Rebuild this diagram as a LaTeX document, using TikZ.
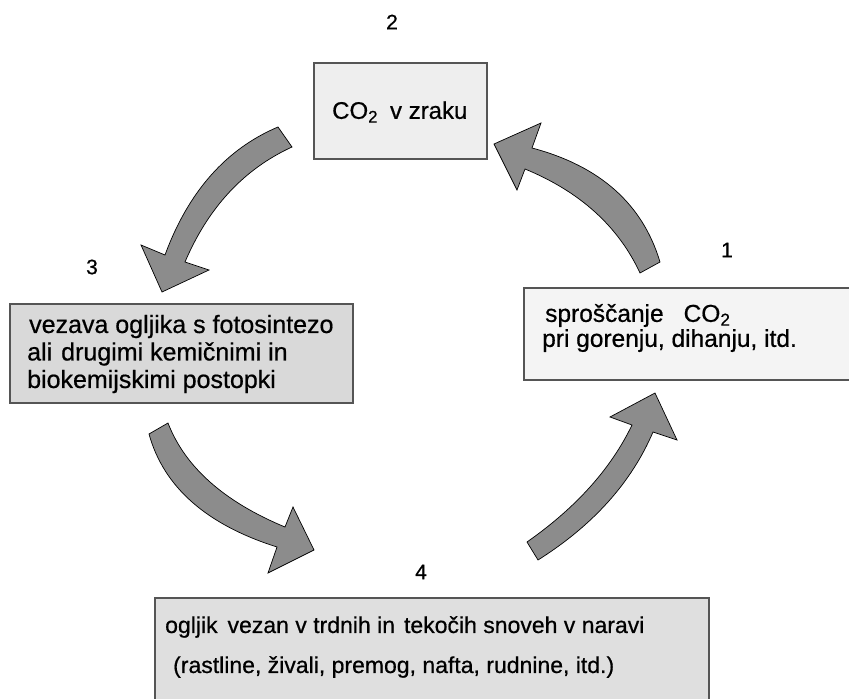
\documentclass[tikz,border=0pt]{standalone}
\usepackage{fontspec}
\setmainfont{Liberation Sans}
\newfontfamily\hv[FakeBold=0.6]{Liberation Sans}
\usetikzlibrary{calc}
\definecolor{boxline}{HTML}{555555}
\definecolor{arrowfill}{HTML}{8C8C8C}
\begin{document}
\begin{tikzpicture}[x=1pt,y=-1pt,
  box/.style={draw=boxline, line width=1.8pt, inner sep=0pt},
  num/.style={font=\hv\fontsize{21}{24}\selectfont, inner sep=0pt},
  txt/.style={inner sep=0pt, anchor=west, align=left},
  bigarrow/.style={fill=arrowfill, draw=black, line width=0.7pt, line join=miter}
]
\useasboundingbox (0,0) rectangle (849,699);
% boxes
\node[box, fill=gray!13, minimum width=173pt, minimum height=96pt] (b2) at (400.5,111) {};
\node[box, fill=gray!30, minimum width=343pt, minimum height=99pt] (b3) at (181.5,353.5) {};
\node[box, fill=gray!9, minimum width=340pt, minimum height=92pt, anchor=north west] (b1) at (523,287) {};
\node[box, fill=gray!25, minimum width=554pt, minimum height=120pt, anchor=north west] (b4) at (154,597) {};
% numbers
\node[num] (n2) at (392,22) {2};
\node[num] (n3) at (92,267) {3};
\node[num] (n1) at (727,250) {1};
\node[num] (n4) at (421,572) {4};
% texts
\node[txt, font=\hv\fontsize{24}{28}\selectfont] (t2) at (332,112) {CO\textsubscript{2}\hspace{12pt}v zraku};
\node[txt, font=\hv\fontsize{25}{27.5}\selectfont] (t3) at (27,354) {\hspace{2pt}vezava ogljika s fotosintezo\\ali\hspace{9pt}drugimi kemičnimi in\\biokemijskimi postopki};
\node[txt, font=\hv\fontsize{24.5}{25}\selectfont] (t1) at (542,328) {\hspace{3pt}sproščanje\hspace{20pt}CO\textsubscript{2}\\pri gorenju, dihanju, itd.};
\node[txt, font=\hv\fontsize{23}{40}\selectfont] (t4) at (165,647) {ogljik\hspace{10pt}vezan v trdnih in\hspace{9pt}tekočih snoveh v naravi\\\hspace{8pt}(rastline, živali, premog, nafta, rudnine, itd.)};
% arrow 2 -> 3
\coordinate (a1) at (278,127); \coordinate (a1c) at (200,160); \coordinate (a1e) at (165,255);
\coordinate (a2) at (292,147); \coordinate (a2c) at (220,180); \coordinate (a2e) at (185,262);
\draw[bigarrow] (a1) .. controls ($(a1)!2/3!(a1c)$) and ($(a1e)!2/3!(a1c)$) .. (a1e)
  -- (141,245) -- (162,292) -- (209,270) -- (a2e)
  .. controls ($(a2e)!2/3!(a2c)$) and ($(a2)!2/3!(a2c)$) .. (a2) -- cycle;
% arrow 1 -> 2
\coordinate (b1s) at (660,262); \coordinate (b1c) at (634,175); \coordinate (b1e) at (532,148);
\coordinate (b2s) at (640,273); \coordinate (b2c) at (607.5,203); \coordinate (b2e) at (525,169);
\draw[bigarrow] (b1s) .. controls ($(b1s)!2/3!(b1c)$) and ($(b1e)!2/3!(b1c)$) .. (b1e)
  -- (541,123) -- (494,144) -- (517,190) -- (b2e)
  .. controls ($(b2e)!2/3!(b2c)$) and ($(b2s)!2/3!(b2c)$) .. (b2s) -- cycle;
% arrow 3 -> 4
\coordinate (c1s) at (168,423); \coordinate (c1c) at (193.5,489); \coordinate (c1e) at (285,527);
\coordinate (c2s) at (149,434); \coordinate (c2c) at (171,513.5); \coordinate (c2e) at (277,547);
\draw[bigarrow] (c1s) .. controls ($(c1s)!2/3!(c1c)$) and ($(c1e)!2/3!(c1c)$) .. (c1e)
  -- (293,507) -- (314,550) -- (268,573) -- (c2e)
  .. controls ($(c2e)!2/3!(c2c)$) and ($(c2s)!2/3!(c2c)$) .. (c2s) -- cycle;
% arrow 4 -> 1
\coordinate (d1s) at (527,542); \coordinate (d1c) at (600.5,490.5); \coordinate (d1e) at (632,425);
\coordinate (d2s) at (538,560); \coordinate (d2c) at (620.5,508); \coordinate (d2e) at (653,432);
\draw[bigarrow] (d1s) .. controls ($(d1s)!2/3!(d1c)$) and ($(d1e)!2/3!(d1c)$) .. (d1e)
  -- (610,417) -- (655,393) -- (677,440) -- (d2e)
  .. controls ($(d2e)!2/3!(d2c)$) and ($(d2s)!2/3!(d2c)$) .. (d2s) -- cycle;
\end{tikzpicture}
\end{document}
